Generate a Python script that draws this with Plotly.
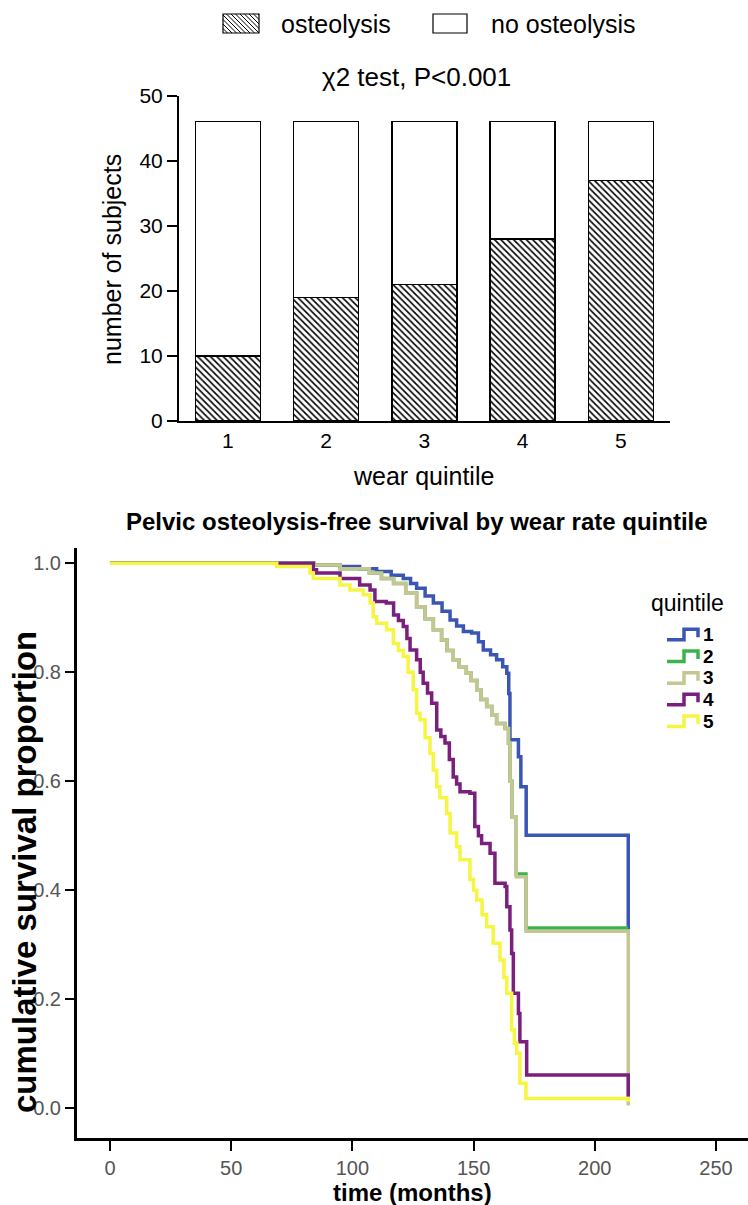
import plotly.graph_objects as go

W, H = 748, 1205
FONT = "Liberation Sans, Arial, sans-serif"

# ---------------- data: bar chart ----------------
quintiles = [1, 2, 3, 4, 5]
osteolysis = [10, 19, 21, 28, 37]
no_osteolysis = [36, 27, 25, 18, 9]

# ---------------- data: Kaplan-Meier curves (months, survival) ----------------
t1 = [0, 84, 95, 103, 110, 116, 121, 124, 126.5, 130, 133.4, 137, 140.3, 143, 145.8, 149.2, 152, 154, 157, 159.5,
      162, 163.7, 164.5, 165, 168.5, 169.5, 171.7, 213.8]
s1 = [1.0, .997, .994, .990, .985, .978, .972, .963, .954, .940, .927, .912, .896, .885, .875, .872, .856, .841, .832, .823,
      .810, .798, .761, .676, .645, .590, .501, .328]

t2 = [0, 84, 95, 107, 112, 117, 122, 126.5, 130, 133.4, 136.8, 139, 141.6, 144, 147, 149, 151.3, 153, 155.4, 157.5,
      159.5, 163, 164.4, 165, 165.8, 167.6, 171.6, 213.8]
s2 = [1.0, .997, .990, .982, .972, .963, .945, .920, .898, .878, .859, .840, .823, .810, .798, .785, .768, .750, .737, .722,
      .706, .697, .670, .600, .535, .430, .331, .331]

t3 = [0, 84, 95, 107, 112, 117, 122, 126.5, 130, 133.4, 136.8, 139, 141.6, 144, 147, 149, 151.3, 153, 155.4, 157.5,
      159.5, 163, 164.4, 165, 165.8, 167.6, 171.6, 213.8]
s3 = [1.0, .997, .990, .982, .972, .963, .945, .920, .898, .878, .859, .840, .823, .810, .798, .785, .768, .750, .737, .722,
      .706, .697, .670, .600, .535, .425, .325, .005]

t4 = [0, 83.9, 85.2, 94.9, 103, 107.3, 109.3, 114, 117, 119, 121, 122.5, 123.8, 126.5, 128, 129.2, 131, 132.7, 134.8, 136.5,
      138.2, 140, 141.6, 143, 144.4, 148.5, 150.5, 152, 153.3, 156.8, 158.8, 163, 163.7, 165, 165.7, 166.4, 168.5, 169.1,
      171.9, 213.8]
s4 = [1.0, .988, .982, .972, .960, .951, .930, .927, .905, .895, .884, .862, .841, .823, .800, .780, .762, .743, .694, .682,
      .670, .640, .608, .595, .581, .578, .517, .500, .486, .468, .413, .407, .370, .327, .284, .211, .174, .122,
      .061, .021]

t5 = [0, 68.8, 82.5, 83.9, 94.9, 99, 104.5, 107.3, 108.6, 110, 114.1, 116.9, 119, 121, 123, 125.1, 126.5, 127.9, 130, 132,
      133.4, 134.8, 136.1, 138.9, 140.3, 143, 144.4, 148.5, 150, 151.3, 153.5, 155.4, 158.1, 160.9, 162.5, 163.7, 165.7,
      166.8, 167.8, 169.1, 171.6, 213.8]
s5 = [1.0, .994, .982, .972, .960, .951, .942, .927, .902, .890, .878, .853, .840, .829, .800, .768, .725, .713, .680, .651,
      .620, .590, .570, .541, .505, .480, .456, .420, .400, .382, .355, .333, .303, .272, .240, .211, .144,
      .120, .101, .046, .018, .012]

km_names = ["1", "2", "3", "4", "5"]
km_colors = ["#3a56b4", "#3cb44c", "#c6c692", "#7a1f7e", "#f6f544"]
km_times = [t1, t2, t3, t4, t5]
km_surv = [s1, s2, s3, s4, s5]

bar_ticks = [0, 10, 20, 30, 40, 50]
km_yticks = [0.0, 0.2, 0.4, 0.6, 0.8, 1.0]
km_xticks = [0, 50, 100, 150, 200, 250]


def px(x):
    return x / W


def py(y):
    return 1 - y / H


fig = go.Figure()

# ---- stacked bars ----
fig.add_trace(go.Bar(
    x=quintiles, y=osteolysis, name="osteolysis", xaxis="x", yaxis="y",
    marker=dict(color="white", line=dict(color="black", width=1.5),
                pattern=dict(shape="\\", fgcolor="black", bgcolor="white", size=4.5, solidity=0.35)),
    showlegend=False))
fig.add_trace(go.Bar(
    x=quintiles, y=no_osteolysis, name="no osteolysis", xaxis="x", yaxis="y",
    marker=dict(color="white", line=dict(color="black", width=1.5)),
    showlegend=False))

# ---- KM step curves ----
for name, col, tt, ss in zip(km_names, km_colors, km_times, km_surv):
    fig.add_trace(go.Scatter(
        x=tt, y=ss, mode="lines", line=dict(color=col, width=3.5, shape="hv"),
        name=name, xaxis="x2", yaxis="y2", showlegend=False))

shapes = []
annotations = []

# ---- top legend (custom) ----
bx0, by0, bx1, by1 = 223, 14, 259, 33
hatch = []
hgt = by1 - by0
c = bx0 - hgt
while c < bx1:
    xa, ya = c, by0
    xb, yb = c + hgt, by1
    if xa < bx0:
        ya = by0 + (bx0 - xa)
        xa = bx0
    if xb > bx1:
        yb = by1 - (xb - bx1)
        xb = bx1
    if xb > xa:
        hatch.append(f"M{px(xa):.5f},{py(ya):.5f} L{px(xb):.5f},{py(yb):.5f}")
    c += 4.5
shapes.append(dict(type="path", xref="paper", yref="paper", path=" ".join(hatch),
                   line=dict(color="black", width=1)))
shapes.append(dict(type="rect", xref="paper", yref="paper", x0=px(bx0), x1=px(bx1), y0=py(by0), y1=py(by1),
                   line=dict(color="black", width=1.2)))
shapes.append(dict(type="rect", xref="paper", yref="paper", x0=px(433), x1=px(467), y0=py(14), y1=py(33),
                   line=dict(color="black", width=1.2), fillcolor="white"))
annotations.append(dict(text="osteolysis", x=px(279), y=py(24), xref="paper", yref="paper",
                        xanchor="left", yanchor="middle", showarrow=False, font=dict(size=25, color="black")))
annotations.append(dict(text="no osteolysis", x=px(489), y=py(24), xref="paper", yref="paper",
                        xanchor="left", yanchor="middle", showarrow=False, font=dict(size=25, color="black")))
annotations.append(dict(text="χ2 test, P<0.001", x=px(416), y=py(77), xref="paper", yref="paper",
                        xanchor="center", yanchor="middle", showarrow=False, font=dict(size=26, color="black")))
annotations.append(dict(text="number of subjects", x=px(112), y=py(259), xref="paper", yref="paper",
                        xanchor="center", yanchor="middle", textangle=-90, showarrow=False,
                        font=dict(size=25, color="black")))
annotations.append(dict(text="wear quintile", x=px(423), y=py(476), xref="paper", yref="paper",
                        xanchor="center", yanchor="middle", showarrow=False, font=dict(size=25, color="black")))

# ---- KM titles ----
annotations.append(dict(text="<b>Pelvic osteolysis-free survival by wear rate quintile</b>", x=px(417), y=py(521),
                        xref="paper", yref="paper", xanchor="center", yanchor="middle", showarrow=False,
                        font=dict(size=24, color="black")))
annotations.append(dict(text="<b>cumulative survival proportion</b>", x=px(24), y=py(872), xref="paper", yref="paper",
                        xanchor="center", yanchor="middle", textangle=-90, showarrow=False,
                        font=dict(size=33, color="black")))
annotations.append(dict(text="<b>time (months)</b>", x=px(412), y=py(1192), xref="paper", yref="paper",
                        xanchor="center", yanchor="middle", showarrow=False, font=dict(size=24, color="black")))

# ---- KM legend (custom step icons) ----
annotations.append(dict(text="quintile", x=px(687), y=py(603), xref="paper", yref="paper",
                        xanchor="center", yanchor="middle", showarrow=False, font=dict(size=23, color="black")))
leg_y = [634.3, 656, 677.7, 699.3, 721]
for name, col, cy in zip(km_names, km_colors, leg_y):
    path = (f"M{px(667):.5f},{py(cy + 5.5):.5f} L{px(684):.5f},{py(cy + 5.5):.5f} "
            f"L{px(684):.5f},{py(cy - 5):.5f} L{px(698):.5f},{py(cy - 5):.5f} L{px(698):.5f},{py(cy + 3):.5f}")
    shapes.append(dict(type="path", xref="paper", yref="paper", path=path, line=dict(color=col, width=3.5)))
    annotations.append(dict(text=f"<b>{name}</b>", x=px(701), y=py(cy), xref="paper", yref="paper",
                            xanchor="left", yanchor="middle", showarrow=False, font=dict(size=19, color="black")))

fig.update_layout(
    template="none",
    width=W, height=H, margin=dict(l=0, r=0, t=0, b=0, pad=0), autosize=False,
    paper_bgcolor="white", plot_bgcolor="white",
    font=dict(family=FONT, color="black"),
    barmode="stack", bargap=0.34, showlegend=False,
    xaxis=dict(domain=[px(178.7), px(670)], range=[0.5, 5.5], tickvals=quintiles, ticktext=[str(q) for q in quintiles],
               showgrid=False, zeroline=False, showline=True, linecolor="black", linewidth=1.5, ticks="",
               tickfont=dict(size=21, color="black"), anchor="y", automargin=False),
    yaxis=dict(domain=[py(421), py(95.7)], range=[0, 50], tickvals=bar_ticks, showgrid=False, zeroline=False,
               showline=True, linecolor="black", linewidth=1.5, ticks="outside", ticklen=10, tickwidth=1.5,
               tickcolor="black", tickfont=dict(size=21, color="black"), anchor="x", automargin=False),
    xaxis2=dict(domain=[px(77), 1.0], range=[-13.6, 263.2], tickvals=km_xticks, showgrid=False, zeroline=False,
                showline=True, linecolor="black", linewidth=3, ticks="outside", ticklen=10, tickwidth=1.5,
                tickcolor="black", tickfont=dict(size=20, color="#555555"), anchor="y2", automargin=False),
    yaxis2=dict(domain=[py(1138), py(548)], range=[-0.0545, 1.028], tickvals=km_yticks, tickformat=".1f",
                showgrid=False, zeroline=False, showline=True, linecolor="black", linewidth=3, ticks="outside",
                ticklen=9, tickwidth=1.5, tickcolor="black", tickfont=dict(size=20, color="#555555"), anchor="x2",
                automargin=False),
    shapes=shapes, annotations=annotations,
)

fig.write_html("out.html", config={"responsive": False, "displayModeBar": False},
               post_script="document.body.style.margin='0';document.body.style.overflow='hidden';")
